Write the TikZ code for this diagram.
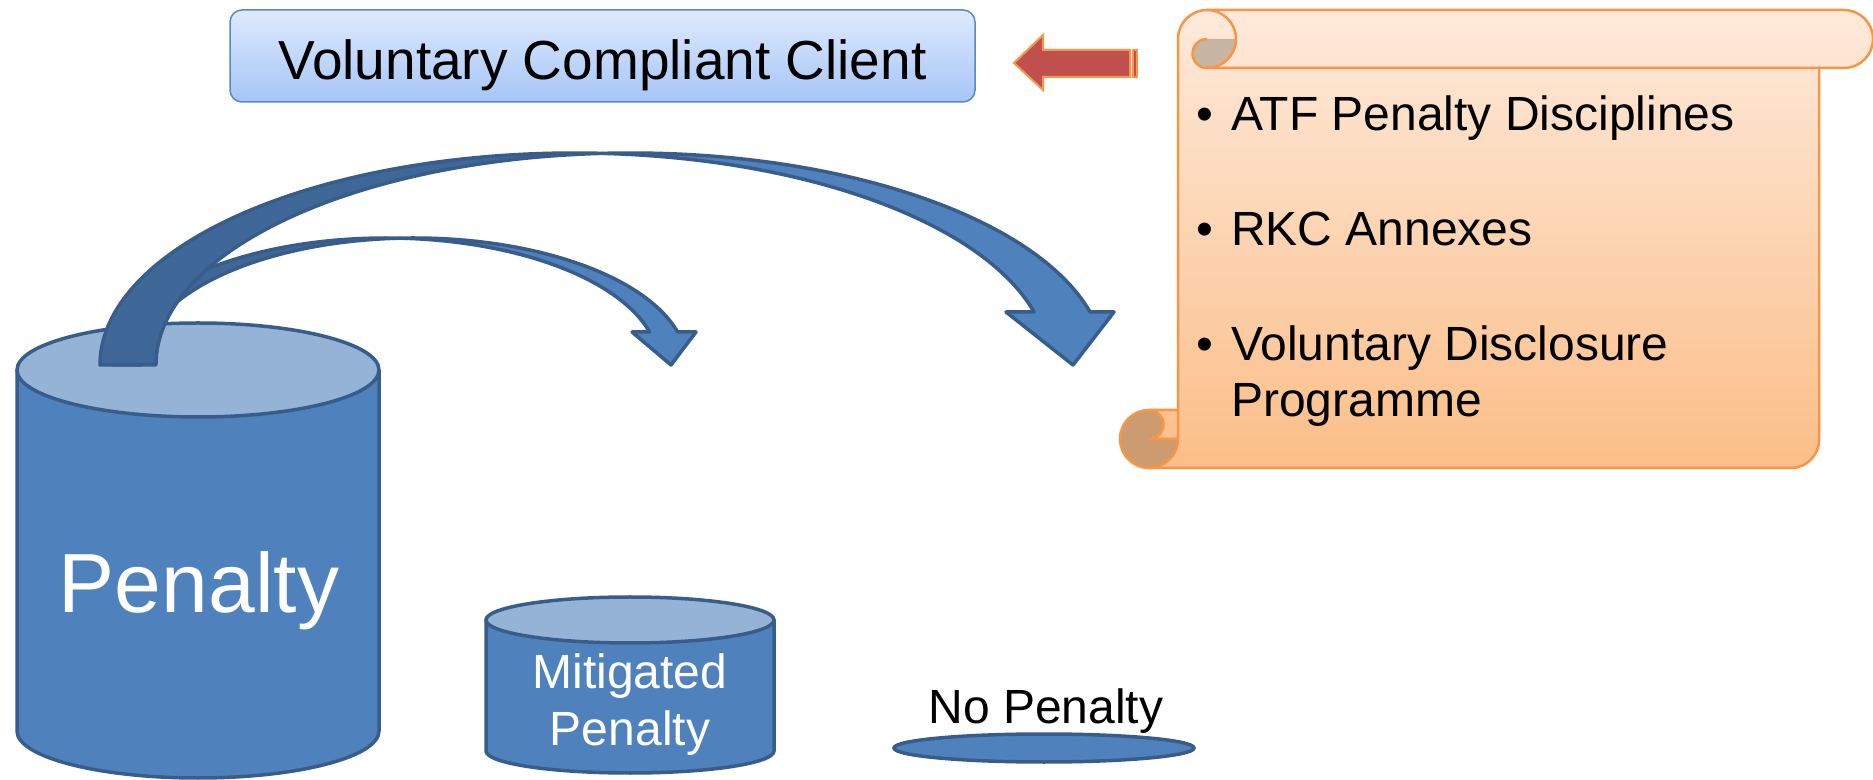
\documentclass[tikz,border=0pt]{standalone}
\usepackage{fontspec}
\setmainfont{Liberation Sans}
\definecolor{cylfill}{HTML}{4F81BD}
\definecolor{cyltop}{HTML}{95B3D7}
\definecolor{cylline}{HTML}{385D8A}
\definecolor{arrdark}{HTML}{3F6797}
\definecolor{scrollline}{HTML}{F79646}
\definecolor{scrolltop}{HTML}{FEEADB}
\definecolor{scrollbot}{HTML}{FBBE88}
\definecolor{curltop}{HTML}{C9B5A3}
\definecolor{curlbot}{HTML}{CD9B70}
\definecolor{redarrow}{HTML}{C0504D}
\definecolor{boxtop}{HTML}{DEEAFD}
\definecolor{boxbot}{HTML}{A6C5F7}
\definecolor{boxline}{HTML}{5A88C4}
\begin{document}
\begin{tikzpicture}[x=1pt,y=1pt,
  cylbody/.style={fill=cylfill, draw=cylline, line width=3.5},
  cyltopst/.style={fill=cyltop, draw=cylline, line width=3.5},
  arrlight/.style={fill=cylfill, draw=cylline, line width=3.5, line join=round},
  arrdarkst/.style={fill=arrdark, draw=cylline, line width=3.5, line join=round},
  scrollst/.style={draw=scrollline, line width=2.5, line join=round},
  lbl/.style={inner sep=0, anchor=base},
  lblw/.style={inner sep=0, anchor=base west},
  fbig/.style={font=\fontsize{84}{100}\selectfont},
  fmid/.style={font=\fontsize{48}{58}\selectfont},
  fbox/.style={font=\fontsize{55}{66}\selectfont}]
\useasboundingbox (0,0) rectangle (1873,779);
\fill[white] (0,0) rectangle (1873,779);

% ---------- Voluntary Compliant Client box
\node[draw=boxline, line width=1.5, top color=boxtop, bottom color=boxbot,
      rounded corners=12, minimum width=745, minimum height=92, inner sep=0] (vcc) at (602.5,723) {};
\node[lbl, fbox] (vcctext) at (602.5,699) {Voluntary Compliant Client};

% ---------- red arrow
\filldraw[fill=redarrow, draw=scrollline, line width=2, line join=miter]
  (1014,716) -- (1043,744) -- (1043,729) -- (1130,729) -- (1130,702) -- (1043,702) -- (1043,689) -- cycle;
\filldraw[fill=redarrow, draw=scrollline, line width=1.5] (1133,729) rectangle (1137,702);

% ---------- scroll
\shade[top color=scrolltop, bottom color=scrollbot]
  (1178,740) arc[start angle=180,end angle=90,radius=29] -- (1844,769)
  arc[start angle=90,end angle=-90,radius=29] -- (1819,711) -- (1819,339)
  arc[start angle=0,end angle=-90,radius=28] -- (1149,311)
  arc[start angle=270,end angle=90,radius=29] -- (1178,369) -- cycle;
\fill[curltop] (1207,740) -- (1236,740) arc[start angle=0,end angle=-90,radius=29]
  arc[start angle=270,end angle=90,radius=14.5] -- cycle;
\fill[curlbot] (1149,369) arc[start angle=90,end angle=-90,radius=14.5] -- (1178,340)
  arc[start angle=0,end angle=-270,radius=29] -- cycle;
\draw[scrollst] (1178,340) -- (1178,740) arc[start angle=180,end angle=90,radius=29] -- (1844,769)
  arc[start angle=90,end angle=-90,radius=29] -- (1207,711);
\draw[scrollst] (1207,769) arc[start angle=90,end angle=-90,radius=29]
  arc[start angle=270,end angle=90,radius=14.5];
\draw[scrollst] (1819,711) -- (1819,339) arc[start angle=0,end angle=-90,radius=28] -- (1149,311);
\draw[scrollst] (1178,340) arc[start angle=0,end angle=-270,radius=29] -- (1178,369);
\draw[scrollst] (1149,369) arc[start angle=90,end angle=-90,radius=14.5] -- (1178,340);

\node[lbl, fmid] (b1) at (1205,648) {•};
\node[lblw, fmid] (t1) at (1231,648) {ATF Penalty Disciplines};
\node[lbl, fmid] (b2) at (1205,533) {•};
\node[lblw, fmid] (t2) at (1231,533) {RKC Annexes};
\node[lbl, fmid] (b3) at (1205,418) {•};
\node[lblw, fmid] (t3) at (1231,418) {Voluntary Disclosure};
\node[lblw, fmid] (t4) at (1231,362) {Programme};

% ---------- big cylinder
\path[cylbody] (17,409) -- (17,48) arc[start angle=180,end angle=360,x radius=181,y radius=47] -- (379,409);
\draw[cyltopst] (198,409) ellipse[x radius=181,y radius=47];
\node[lbl, fbig, text=white] (pen) at (199,166) {Penalty};

% ---------- medium cylinder
\path[cylbody] (486,159) -- (486,28) arc[start angle=180,end angle=360,x radius=144,y radius=22] -- (774,159);
\draw[cyltopst] (630,159) ellipse[x radius=144,y radius=23];
\node[lbl, fmid, text=white] (mit1) at (630,91) {Mitigated};
\node[lbl, fmid, text=white] (mit2) at (630,34) {Penalty};

% ---------- no penalty
\draw[cylbody] (1044,31) ellipse[x radius=150,y radius=14];
\node[lbl, fmid] (nop) at (1046,56) {No Penalty};

% ---------- small curved arrow (behind)
\path[arrdarkst] (113,414) arc[start angle=180,end angle=87.06,x radius=273,y radius=127]
  arc[start angle=92.94,end angle=180,x radius=273,y radius=127] -- cycle;
\path[arrlight] (649.6,447) arc[start angle=15.06,end angle=87.06,x radius=273,y radius=127]
  arc[start angle=92.94,end angle=15.06,x radius=273,y radius=127]
  -- (696,447) -- (671,414) -- (632,447) -- cycle;

% ---------- big curved arrow
\path[arrdarkst] (100,414) arc[start angle=180,end angle=86.62,x radius=474.6,y radius=212]
  arc[start angle=93.38,end angle=180,x radius=474.6,y radius=212] -- cycle;
\path[arrlight] (1034.1,467) arc[start angle=14.48,end angle=86.62,x radius=474.6,y radius=212]
  arc[start angle=93.38,end angle=14.48,x radius=474.6,y radius=212]
  -- (1114,467) -- (1073,414) -- (1006,467) -- cycle;
\end{tikzpicture}
\end{document}
